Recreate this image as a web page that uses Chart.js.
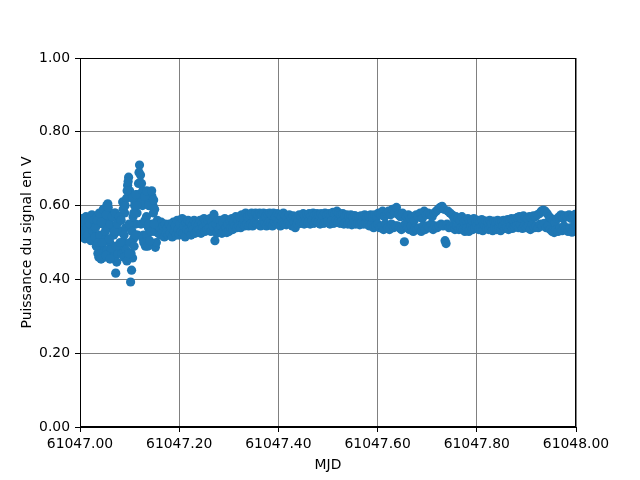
<!DOCTYPE html>
<html>
<head>
<meta charset="utf-8">
<script src="https://cdn.jsdelivr.net/npm/chart.js@4.4.1/dist/chart.umd.min.js"></script>
<style>
html,body{margin:0;padding:0;background:#fff;}
canvas{display:block;}
</style>
</head>
<body>
<canvas id="c" width="640" height="480"></canvas>
<script>
// Reading of the reference scatter: MJD (x) and signal power in V (y)
const mjd = [
61047.000,61047.002,61047.004,61047.006,61047.008,61047.010,61047.012,61047.014,61047.016,61047.018,
61047.020,61047.022,61047.024,61047.026,61047.028,61047.030,61047.032,61047.034,61047.036,61047.038,
61047.040,61047.042,61047.044,61047.046,61047.048,61047.050,61047.052,61047.054,61047.056,61047.058,
61047.060,61047.062,61047.064,61047.066,61047.068,61047.070,61047.072,61047.074,61047.076,61047.078,
61047.080,61047.082,61047.084,61047.086,61047.088,61047.090,61047.092,61047.094,61047.096,61047.098,
61047.100,61047.102,61047.104,61047.106,61047.108,61047.110,61047.112,61047.114,61047.116,61047.118,
61047.120,61047.122,61047.124,61047.126,61047.128,61047.130,61047.132,61047.134,61047.136,61047.138,
61047.140,61047.142,61047.144,61047.146,61047.148,61047.150,61047.152,61047.154,61047.156,61047.158,
61047.160,61047.162,61047.164,61047.166,61047.168,61047.170,61047.172,61047.174,61047.176,61047.178,
61047.180,61047.182,61047.184,61047.186,61047.188,61047.190,61047.192,61047.194,61047.196,61047.198,
61047.200,61047.202,61047.204,61047.206,61047.208,61047.210,61047.212,61047.214,61047.216,61047.218,
61047.220,61047.222,61047.224,61047.226,61047.228,61047.230,61047.232,61047.234,61047.236,61047.238,
61047.240,61047.242,61047.244,61047.246,61047.248,61047.250,61047.252,61047.254,61047.256,61047.258,
61047.260,61047.262,61047.264,61047.266,61047.268,61047.270,61047.272,61047.274,61047.276,61047.278,
61047.280,61047.282,61047.284,61047.286,61047.288,61047.290,61047.292,61047.294,61047.296,61047.298,
61047.300,61047.302,61047.304,61047.306,61047.308,61047.310,61047.312,61047.314,61047.316,61047.318,
61047.320,61047.322,61047.324,61047.326,61047.328,61047.330,61047.332,61047.334,61047.336,61047.338,
61047.340,61047.342,61047.344,61047.346,61047.348,61047.350,61047.352,61047.354,61047.356,61047.358,
61047.360,61047.362,61047.364,61047.366,61047.368,61047.370,61047.372,61047.374,61047.376,61047.378,
61047.380,61047.382,61047.384,61047.386,61047.388,61047.390,61047.392,61047.394,61047.396,61047.398,
61047.400,61047.402,61047.404,61047.406,61047.408,61047.410,61047.412,61047.414,61047.416,61047.418,
61047.420,61047.422,61047.424,61047.426,61047.428,61047.430,61047.432,61047.434,61047.436,61047.438,
61047.440,61047.442,61047.444,61047.446,61047.448,61047.450,61047.452,61047.454,61047.456,61047.458,
61047.460,61047.462,61047.464,61047.466,61047.468,61047.470,61047.472,61047.474,61047.476,61047.478,
61047.480,61047.482,61047.484,61047.486,61047.488,61047.490,61047.492,61047.494,61047.496,61047.498,
61047.500,61047.502,61047.504,61047.506,61047.508,61047.510,61047.512,61047.514,61047.516,61047.518,
61047.520,61047.522,61047.524,61047.526,61047.528,61047.530,61047.532,61047.534,61047.536,61047.538,
61047.540,61047.542,61047.544,61047.546,61047.548,61047.550,61047.552,61047.554,61047.556,61047.558,
61047.560,61047.562,61047.564,61047.566,61047.568,61047.570,61047.572,61047.574,61047.576,61047.578,
61047.580,61047.582,61047.584,61047.586,61047.588,61047.590,61047.592,61047.594,61047.596,61047.598,
61047.600,61047.602,61047.604,61047.606,61047.608,61047.610,61047.612,61047.614,61047.616,61047.618,
61047.620,61047.622,61047.624,61047.626,61047.628,61047.630,61047.632,61047.634,61047.636,61047.638,
61047.640,61047.642,61047.644,61047.646,61047.648,61047.650,61047.652,61047.654,61047.656,61047.658,
61047.660,61047.662,61047.664,61047.666,61047.668,61047.670,61047.672,61047.674,61047.676,61047.678,
61047.680,61047.682,61047.684,61047.686,61047.688,61047.690,61047.692,61047.694,61047.696,61047.698,
61047.700,61047.702,61047.704,61047.706,61047.708,61047.710,61047.712,61047.714,61047.716,61047.718,
61047.720,61047.722,61047.724,61047.726,61047.728,61047.730,61047.732,61047.734,61047.736,61047.738,
61047.740,61047.742,61047.744,61047.746,61047.748,61047.750,61047.752,61047.754,61047.756,61047.758,
61047.760,61047.762,61047.764,61047.766,61047.768,61047.770,61047.772,61047.774,61047.776,61047.778,
61047.780,61047.782,61047.784,61047.786,61047.788,61047.790,61047.792,61047.794,61047.796,61047.798,
61047.800,61047.802,61047.804,61047.806,61047.808,61047.810,61047.812,61047.814,61047.816,61047.818,
61047.820,61047.822,61047.824,61047.826,61047.828,61047.830,61047.832,61047.834,61047.836,61047.838,
61047.840,61047.842,61047.844,61047.846,61047.848,61047.850,61047.852,61047.854,61047.856,61047.858,
61047.860,61047.862,61047.864,61047.866,61047.868,61047.870,61047.872,61047.874,61047.876,61047.878,
61047.880,61047.882,61047.884,61047.886,61047.888,61047.890,61047.892,61047.894,61047.896,61047.898,
61047.900,61047.902,61047.904,61047.906,61047.908,61047.910,61047.912,61047.914,61047.916,61047.918,
61047.920,61047.922,61047.924,61047.926,61047.928,61047.930,61047.932,61047.934,61047.936,61047.938,
61047.940,61047.942,61047.944,61047.946,61047.948,61047.950,61047.952,61047.954,61047.956,61047.958,
61047.960,61047.962,61047.964,61047.966,61047.968,61047.970,61047.972,61047.974,61047.976,61047.978,
61047.980,61047.982,61047.984,61047.986,61047.988,61047.990,61047.992,61047.994,61047.996,61047.998,
61048.000,
61047.031,61047.033,61047.035,61047.037,61047.039,61047.041,61047.043,61047.045,61047.047,61047.049,
61047.051,61047.053,61047.055,61047.057,61047.059,61047.061,61047.063,61047.065,61047.067,61047.069,
61047.071,61047.073,61047.075,61047.077,61047.079,61047.081,61047.083,61047.085,61047.087,61047.089,
61047.091,61047.093,61047.095,61047.097,61047.099,61047.101,61047.103,61047.105,61047.107,61047.109,
61047.111,61047.113,61047.115,61047.117,61047.119,61047.121,61047.123,61047.125,61047.127,61047.129,
61047.131,61047.133,61047.135,61047.137,61047.139,61047.141,61047.143,61047.145,61047.147,61047.149,
61047.1065,61047.1085,61047.1125,61047.1145,61047.1265,61047.1305,61047.1345,61047.1385,61047.1445,61047.1485,
61047.1505,61047.1285,61047.1365,61047.1405,61047.0885,61047.0945,61047.0985,61047.0425,61047.0525,61047.0605
];

const volts = [
0.545,0.515,0.565,0.53,0.555,0.51,0.57,0.54,0.52,0.56,
0.55,0.505,0.575,0.53,0.56,0.515,0.545,0.57,0.47,0.46,
0.52,0.58,0.49,0.55,0.475,0.565,0.51,0.60,0.605,0.54,
0.50,0.575,0.46,0.54,0.52,0.58,0.417,0.447,0.53,0.56,
0.49,0.57,0.53,0.61,0.50,0.58,0.54,0.62,0.655,0.677,
0.64,0.393,0.425,0.458,0.51,0.60,0.55,0.62,0.52,0.66,
0.71,0.683,0.66,0.60,0.52,0.62,0.49,0.57,0.63,0.54,
0.60,0.63,0.62,0.55,0.58,0.53,0.487,0.50,0.56,0.525,
0.54,0.52,0.555,0.53,0.545,0.515,0.55,0.525,0.54,0.52,
0.55,0.525,0.54,0.515,0.555,0.53,0.545,0.52,0.56,0.535,
0.52,0.55,0.53,0.565,0.525,0.545,0.515,0.555,0.535,0.56,
0.53,0.555,0.52,0.545,0.535,0.56,0.525,0.55,0.53,0.545,
0.535,0.56,0.525,0.55,0.54,0.565,0.53,0.555,0.535,0.56,
0.54,0.565,0.53,0.555,0.545,0.576,0.505,0.55,0.525,0.56,
0.535,0.56,0.545,0.525,0.555,0.53,0.565,0.54,0.527,0.55,
0.53,0.56,0.54,0.565,0.535,0.555,0.545,0.57,0.54,0.56,
0.545,0.57,0.54,0.575,0.55,0.565,0.545,0.58,0.55,0.57,
0.545,0.575,0.55,0.58,0.545,0.57,0.555,0.58,0.55,0.575,
0.55,0.58,0.545,0.575,0.555,0.58,0.55,0.57,0.545,0.578,
0.555,0.58,0.55,0.575,0.545,0.58,0.555,0.57,0.55,0.578,
0.555,0.575,0.545,0.57,0.555,0.58,0.55,0.572,0.548,0.565,
0.555,0.575,0.55,0.568,0.545,0.572,0.555,0.54,0.565,0.55,
0.56,0.575,0.552,0.57,0.555,0.578,0.55,0.572,0.558,0.575,
0.555,0.578,0.55,0.572,0.56,0.58,0.552,0.575,0.558,0.578,
0.555,0.575,0.55,0.578,0.558,0.572,0.552,0.58,0.555,0.575,
0.558,0.578,0.55,0.575,0.56,0.582,0.552,0.578,0.56,0.585,
0.555,0.58,0.552,0.575,0.558,0.578,0.55,0.572,0.555,0.575,
0.55,0.572,0.555,0.575,0.548,0.57,0.555,0.573,0.55,0.568,
0.552,0.57,0.548,0.572,0.555,0.568,0.55,0.575,0.552,0.57,
0.548,0.572,0.545,0.575,0.55,0.568,0.54,0.575,0.545,0.57,
0.55,0.58,0.54,0.575,0.545,0.585,0.535,0.57,0.55,0.58,
0.54,0.585,0.535,0.575,0.55,0.59,0.54,0.58,0.545,0.595,
0.545,0.575,0.54,0.57,0.535,0.58,0.545,0.502,0.55,0.57,
0.54,0.575,0.535,0.565,0.545,0.57,0.53,0.56,0.54,0.575,
0.535,0.57,0.54,0.58,0.53,0.565,0.545,0.585,0.535,0.575,
0.545,0.58,0.54,0.575,0.55,0.57,0.535,0.58,0.545,0.585,
0.54,0.59,0.545,0.595,0.55,0.598,0.545,0.59,0.505,0.497,
0.55,0.585,0.54,0.58,0.545,0.575,0.54,0.565,0.535,0.57,
0.545,0.565,0.535,0.56,0.54,0.57,0.535,0.555,0.53,0.56,
0.54,0.565,0.53,0.555,0.545,0.56,0.535,0.565,0.54,0.555,
0.545,0.56,0.535,0.555,0.54,0.562,0.532,0.55,0.545,0.558,
0.54,0.555,0.535,0.56,0.545,0.552,0.532,0.558,0.54,0.555,
0.535,0.56,0.54,0.555,0.532,0.558,0.545,0.56,0.538,0.555,
0.54,0.562,0.535,0.558,0.545,0.565,0.538,0.56,0.542,0.565,
0.545,0.568,0.54,0.57,0.548,0.565,0.538,0.572,0.545,0.568,
0.54,0.565,0.545,0.57,0.535,0.568,0.548,0.572,0.54,0.57,
0.545,0.575,0.54,0.578,0.55,0.585,0.545,0.588,0.552,0.585,
0.54,0.578,0.545,0.57,0.535,0.565,0.53,0.56,0.527,0.555,
0.535,0.565,0.53,0.57,0.54,0.575,0.532,0.565,0.545,0.572,
0.535,0.57,0.53,0.575,0.54,0.565,0.528,0.572,0.545,0.576,
0.55,
0.54,0.49,0.56,0.50,0.58,0.47,0.555,0.50,0.59,0.46,
0.53,0.575,0.48,0.595,0.51,0.55,0.48,0.57,0.46,0.53,
0.58,0.49,0.55,0.47,0.57,0.50,0.56,0.47,0.59,0.52,
0.60,0.48,0.64,0.665,0.55,0.50,0.47,0.53,0.57,0.49,
0.61,0.52,0.58,0.63,0.69,0.62,0.55,0.61,0.51,0.63,
0.56,0.635,0.52,0.62,0.55,0.61,0.53,0.625,0.60,0.55,
0.62,0.58,0.63,0.60,0.64,0.625,0.64,0.60,0.64,0.615,
0.59,0.50,0.49,0.505,0.46,0.45,0.47,0.455,0.465,0.455
];

const xTicks = [61047.0, 61047.2, 61047.4, 61047.6, 61047.8, 61048.0];
const yTicks = [0.0, 0.2, 0.4, 0.6, 0.8, 1.0];
const xLabel = 'MJD';
const yLabel = 'Puissance du signal en V';

const points = mjd.map((x, i) => ({x: x, y: volts[i]}));

const FONT = {family: 'DejaVu Sans', size: 13.9};

const framePlugin = {
  id: 'frame',
  afterDatasetsDraw(chart) {
    const a = chart.chartArea;
    const ctx = chart.ctx;
    ctx.save();
    ctx.strokeStyle = '#000';
    ctx.lineWidth = 1;
    ctx.strokeRect(Math.round(a.left) + 0.5, Math.round(a.top) + 0.5,
                   Math.round(a.right - a.left) - 1, Math.round(a.bottom - a.top) - 1);
    ctx.restore();
  }
};

new Chart(document.getElementById('c'), {
  type: 'scatter',
  data: {
    datasets: [{
      data: points,
      backgroundColor: '#1f77b4',
      borderColor: '#1f77b4',
      borderWidth: 0,
      pointRadius: 4.6,
      pointHoverRadius: 4.6,
      clip: 0
    }]
  },
  options: {
    responsive: false,
    animation: false,
    devicePixelRatio: 1,
    layout: {padding: {left: 0, right: 64, top: 58, bottom: 0}},
    plugins: {legend: {display: false}, tooltip: {enabled: false}},
    scales: {
      x: {
        type: 'linear',
        min: xTicks[0],
        max: xTicks[xTicks.length - 1],
        afterFit(s) { s.height = 53; },
        afterBuildTicks(s) { s.ticks = xTicks.map(v => ({value: v})); },
        ticks: {
          color: '#000', font: FONT, padding: 4, maxRotation: 0, autoSkip: false,
          callback: v => Number(v).toFixed(2)
        },
        grid: {color: '#808080', lineWidth: 1, tickColor: '#000', tickLength: 5, drawTicks: true},
        border: {display: true, color: '#000', width: 1},
        title: {display: true, text: xLabel, color: '#000', font: FONT, padding: {top: 0, bottom: 6}}
      },
      y: {
        type: 'linear',
        min: yTicks[0],
        max: yTicks[yTicks.length - 1],
        afterFit(s) { s.width = 80; },
        afterBuildTicks(s) { s.ticks = yTicks.map(v => ({value: v})); },
        ticks: {
          color: '#000', font: FONT, padding: 5, autoSkip: false,
          callback: v => Number(v).toFixed(2)
        },
        grid: {color: '#808080', lineWidth: 1, tickColor: '#000', tickLength: 5, drawTicks: true},
        border: {display: true, color: '#000', width: 1},
        title: {display: true, text: yLabel, color: '#000', font: FONT, padding: {top: 19, bottom: 0}}
      }
    }
  },
  plugins: [framePlugin]
});
</script>
</body>
</html>
